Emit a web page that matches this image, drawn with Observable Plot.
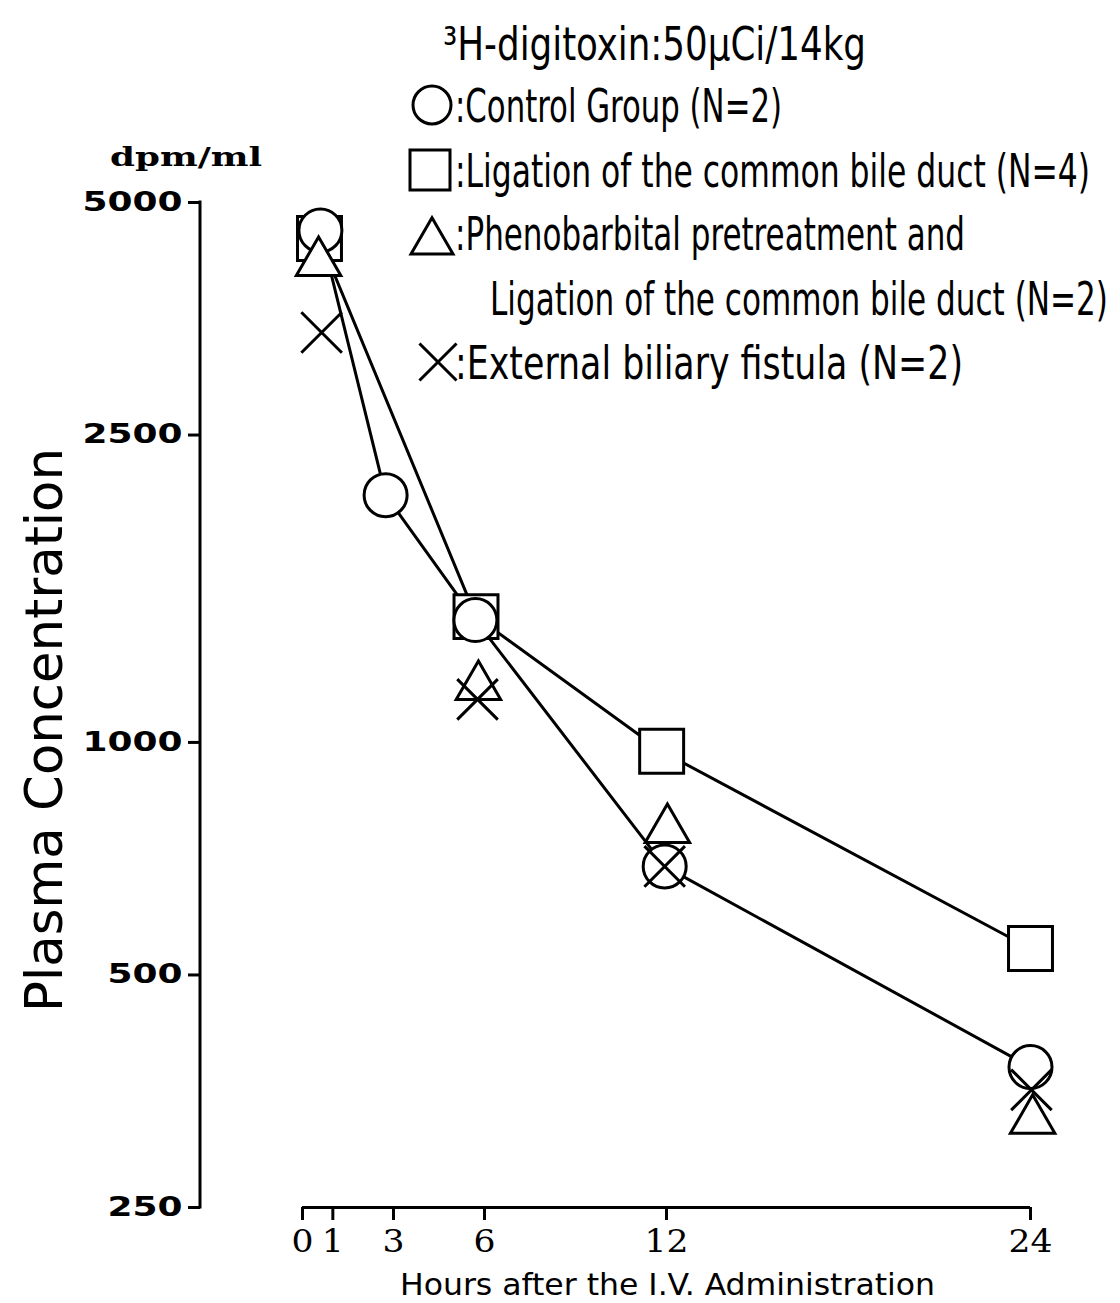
<!DOCTYPE html>
<html>
<head>
<meta charset="utf-8">
<script src="https://cdn.jsdelivr.net/npm/d3@7"></script>
<script src="https://cdn.jsdelivr.net/npm/@observablehq/plot@0.6"></script>
<style>
  body { margin: 0; background: #fff; }
  #chart { position: relative; width: 1120px; height: 1303px; }
</style>
</head>
<body>
<div id="chart"></div>
<script>
// ---- data ----
const controlHours   = [0.59, 2.74, 5.70, 11.94, 24.0];
const controlValues  = [4600, 2090, 1440, 691, 380];
const ligationHours  = [0.56, 5.72, 11.84, 24.0];
const ligationValues = [4490, 1455, 974, 541];
const phenoHours     = [0.53, 5.80, 12.03, 24.07];
const phenoValues    = [4180, 1181, 771, 324];
const fistulaHours   = [0.63, 5.77, 11.94, 24.03];
const fistulaValues  = [3394, 1137, 691, 355];

const xTicks = [0, 1, 3, 6, 12, 24];
const yTicks = [250, 500, 1000, 2500, 5000];

const titleText = "\u00B3H-digitoxin:50\u03BCCi/14kg";
const legendLabels = [
  ":Control Group (N=2)",
  ":Ligation of the common bile duct (N=4)",
  ":Phenobarbital pretreatment and",
  "Ligation of the common bile duct (N=2)",
  ":External biliary fistula (N=2)"
];
const yLabel = "Plasma Concentration";
const yUnit = "dpm/ml";
const xLabel = "Hours after the I.V. Administration";

const toRows = (hs, vs) => hs.map((h, i) => ({h, v: vs[i]}));
const control = toRows(controlHours, controlValues);
const ligation = toRows(ligationHours, ligationValues);
const pheno = toRows(phenoHours, phenoValues);
const fistula = toRows(fistulaHours, fistulaValues);

const W = 1120, H = 1303;
const mL = 200, mR = 90, mT = 202, mB = 96;
const SW = 3;

const chart = Plot.plot({
  width: W, height: H,
  marginLeft: mL, marginRight: mR, marginTop: mT, marginBottom: mB,
  style: {background: "white", color: "black", overflow: "visible"},
  x: {domain: [0, 24], range: [302, 1030]},
  y: {type: "log", domain: [250, 5000], range: [H - mB, mT]},
  marks: [
    Plot.ruleY([250], {x1: 0, x2: 24, stroke: "black", strokeWidth: SW}),
    Plot.axisX({ticks: xTicks, tickSize: 13, tickPadding: 9, strokeWidth: SW,
      fontSize: 32, fontFamily: "DejaVu Serif", label: null, tickFormat: d => String(d)}),
    Plot.axisY({ticks: yTicks, tickSize: 12, tickPadding: 6, strokeWidth: SW,
      fontSize: 26, fontWeight: "bold", fontFamily: "DejaVu Sans", label: null, tickFormat: d => String(d)}),
    Plot.line(control, {x: "h", y: "v", stroke: "black", strokeWidth: SW}),
    Plot.line(ligation, {x: "h", y: "v", stroke: "black", strokeWidth: SW}),
    Plot.dot(ligation, {x: "h", y: "v", symbol: "square", r: 24.8, stroke: "black", fill: "white", strokeWidth: SW}),
    Plot.dot(control, {x: "h", y: "v", symbol: "circle", r: 21.5, stroke: "black", fill: "white", strokeWidth: SW}),
    Plot.dot(pheno, {x: "h", y: "v", symbol: "triangle", r: 16.5, stroke: "black", fill: "white", strokeWidth: SW, strokeLinejoin: "miter"}),
    Plot.dot(fistula, {x: "h", y: "v", symbol: "times", r: 18.5, stroke: "black", fill: "none", strokeWidth: SW})
  ]
});

document.getElementById("chart").appendChild(chart);

const svg = d3.select(chart);
const ys = chart.scale("y");

// stretch tick labels to the wide lettering of the original
svg.selectAll('g[aria-label="y-axis tick label"] text').each(function() {
  const t = this.textContent;
  d3.select(this).attr("textLength", t.length * 25).attr("lengthAdjust", "spacingAndGlyphs");
});
svg.selectAll('g[aria-label="x-axis tick label"] text').each(function() {
  const t = this.textContent;
  d3.select(this).attr("textLength", t.length * 22).attr("lengthAdjust", "spacingAndGlyphs");
});

// y axis line
svg.append("line")
  .attr("x1", mL).attr("x2", mL)
  .attr("y1", ys.apply(5000) - 1.5).attr("y2", ys.apply(250) + 1.5)
  .attr("stroke", "black").attr("stroke-width", SW);

const condensed = "'Liberation Sans Narrow','DejaVu Sans Condensed','DejaVu Sans',sans-serif";
// text fitted to a target width: font shrunk so its natural width fits, then stretched vertically
function addText(str, x, y, len, size, family, weight, rotate) {
  const t = svg.append("text")
    .attr("x", 0).attr("y", 0)
    .attr("text-anchor", "start")
    .attr("font-size", size)
    .attr("font-family", family)
    .attr("font-weight", weight || "normal")
    .attr("fill", "black")
    .text(str);
  const natural = t.node().getComputedTextLength();
  let f = natural > 0 ? len / natural : 1;
  let sy = 1;
  if (f < 1) { t.attr("font-size", size * f); sy = 1 / f; }
  t.attr("textLength", len).attr("lengthAdjust", "spacingAndGlyphs");
  t.attr("transform", `translate(${x},${y})${rotate ? " rotate(" + rotate + ")" : ""} scale(1,${sy})`);
  return t;
}

// title and legend
addText(titleText, 443, 60, 423, 46, condensed);
const legendBase = [122, 187, 250, 315, 379];
const legendX = [455, 455, 455, 490, 455];
const legendEnd = [782, 1090, 965, 1108, 963];
legendLabels.forEach((s, i) => addText(s, legendX[i], legendBase[i], legendEnd[i] - legendX[i], 46, condensed));

const legendSym = [
  {type: d3.symbolCircle, x: 432, y: 105, size: Math.PI * 19 * 19},
  {type: d3.symbolSquare, x: 430, y: 170, size: 40 * 40},
  {type: d3.symbolTriangle, x: 432, y: 242, size: Math.sqrt(3) / 4 * 42 * 42},
  {type: d3.symbolTimes, x: 438, y: 362, size: 900}
];
legendSym.forEach(s => {
  svg.append("path")
    .attr("transform", `translate(${s.x},${s.y})`)
    .attr("d", d3.symbol(s.type, s.size)())
    .attr("fill", "none").attr("stroke", "black").attr("stroke-width", SW);
});

// axis titles
addText(yUnit, 110, 166, 152, 26, "'DejaVu Serif',serif", "bold");
addText(yLabel, 62, 1012, 564, 52, condensed, "normal", -90);
addText(xLabel, 400, 1295, 535, 30, condensed);
</script>
</body>
</html>
